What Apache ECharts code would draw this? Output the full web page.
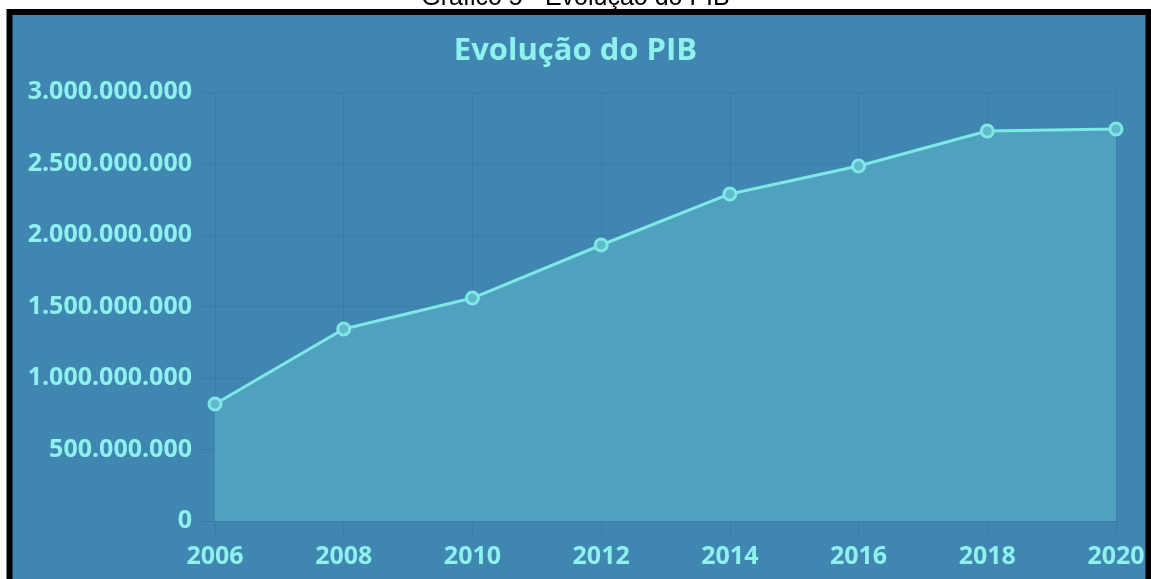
<!DOCTYPE html>
<html>
<head>
<meta charset="utf-8">
<script src="https://cdn.jsdelivr.net/npm/echarts@6/dist/echarts.min.js"></script>
<style>
  html, body { margin: 0; padding: 0; background: #fff; }
  #myChart { width: 1151px; height: 579px; }
</style>
</head>
<body>
<div id="myChart"></div>
<script>
// dados do gráfico
const anos = ['2006', '2008', '2010', '2012', '2014', '2016', '2018', '2020'];
const pib = [818000000, 1343000000, 1559000000, 1930000000, 2287000000, 2483000000, 2727000000, 2741000000];

// 3000000000 -> 3.000.000.000
const fmt = (v) => String(v).replace(/\B(?=(\d{3})+(?!\d))/g, '.');

const corTexto = '#8ff1ee';
const corGrade = '#3a7ca3';

const myChart = echarts.init(document.getElementById('myChart'));
myChart.setOption({
  backgroundColor: '#ffffff',
  animation: false,
  graphic: [
    {
      type: 'rect',
      z: -10,
      shape: { x: 9.5, y: 12, width: 1139, height: 580 },
      style: { fill: '#3f86b0', stroke: '#000', lineWidth: 6 }
    },
    {
      type: 'text',
      left: 'center',
      top: -14,
      z: -20,
      style: {
        text: 'Gráfico 5 - Evolução do PIB',
        fill: '#000',
        font: '25px "Liberation Sans", Arial, sans-serif'
      }
    }
  ],
  title: {
    text: 'Evolução do PIB',
    left: 'center',
    top: 31,
    textStyle: {
      color: corTexto,
      fontSize: 31,
      fontWeight: 700,
      fontFamily: 'Open Sans'
    }
  },
  grid: {
    left: 215,
    right: 35,
    top: 92,
    bottom: 58
  },
  xAxis: {
    type: 'category',
    boundaryGap: false,
    data: anos,
    axisLine: { show: true, lineStyle: { color: corGrade, width: 1 } },
    axisTick: { show: true, length: 17, lineStyle: { color: corGrade } },
    splitLine: { show: true, lineStyle: { color: corGrade } },
    axisLabel: {
      color: corTexto,
      fontSize: 25,
      fontWeight: 700,
      fontFamily: 'Open Sans',
      margin: 23
    }
  },
  yAxis: {
    type: 'value',
    min: 0,
    max: 3000000000,
    interval: 500000000,
    axisLine: { show: false },
    axisTick: { show: true, length: 16, lineStyle: { color: corGrade } },
    splitLine: { show: true, lineStyle: { color: corGrade } },
    axisLabel: {
      color: corTexto,
      fontSize: 25,
      fontWeight: 700,
      fontFamily: 'Open Sans',
      margin: 23,
      formatter: fmt
    }
  },
  series: [
    {
      type: 'line',
      data: pib,
      symbol: 'circle',
      symbolSize: 12,
      lineStyle: { color: '#7ee8e6', width: 3 },
      itemStyle: { color: '#62b9cc', borderColor: '#7ee8e6', borderWidth: 3 },
      areaStyle: { color: '#50a0bf', opacity: 1 }
    }
  ]
});
</script>
</body>
</html>
